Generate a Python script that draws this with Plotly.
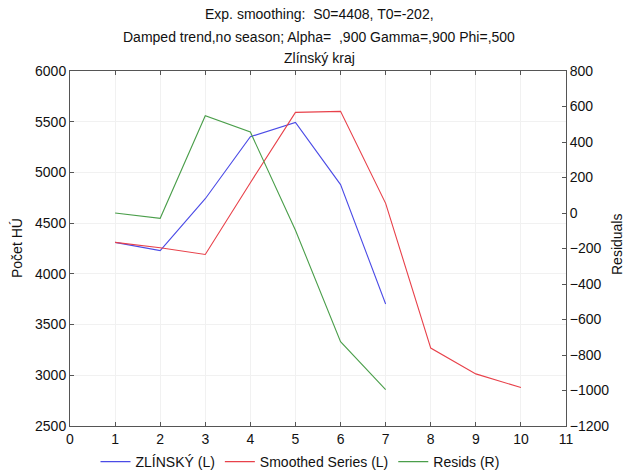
import plotly.graph_objects as go

# ---- data ----
x_data = [1, 2, 3, 4, 5, 6, 7]
zlinsky = [4310, 4230, 4741, 5352, 5493, 4880, 3703]
x_smooth = [1, 2, 3, 4, 5, 6, 7, 8, 9, 10]
smoothed = [4310, 4257, 4191, 4899, 5592, 5602, 4695, 3268, 3014, 2879]
resids = [0, -30, 548, 456, -97, -725, -995]

title_lines = ["Exp. smoothing:  S0=4408, T0=-202,",
               "Damped trend,no season; Alpha=  ,900 Gamma=,900 Phi=,500",
               "Zlínský kraj"]
series_names = ["ZLÍNSKÝ (L)", "Smoothed Series (L)", "Resids (R)"]
left_title = "Počet HÚ"
right_title = "Residuals"

W, H = 627, 473
L, R, T, B = 70, 61, 71, 47
plot_w = W - L - R
plot_h = H - T - B


def px_x(px):
    return (px - L) / plot_w


def px_y(py):
    return (H - B - py) / plot_h


FONT = "Liberation Sans, Arial, sans-serif"
AX = "#555555"

fig = go.Figure()
fig.add_trace(go.Scatter(x=x_data, y=zlinsky, mode="lines", name=series_names[0],
                         line=dict(color="#4b4be6", width=1.1)))
fig.add_trace(go.Scatter(x=x_smooth, y=smoothed, mode="lines", name=series_names[1],
                         line=dict(color="#e8414a", width=1.1)))
fig.add_trace(go.Scatter(x=x_data, y=resids, mode="lines", name=series_names[2],
                         line=dict(color="#4a9e4a", width=1.1), yaxis="y2"))

annotations = []
for txt, py in zip(title_lines, [14, 37, 58]):
    annotations.append(dict(text=txt, xref="paper", yref="paper", x=px_x(319), y=px_y(py),
                            xanchor="center", yanchor="middle", showarrow=False,
                            font=dict(family=FONT, size=14, color="#111")))
annotations.append(dict(text=left_title, xref="paper", yref="paper", x=px_x(17), y=px_y(248),
                        xanchor="center", yanchor="middle", textangle=-90, showarrow=False,
                        font=dict(family=FONT, size=14, color="#111")))
annotations.append(dict(text=right_title, xref="paper", yref="paper", x=px_x(617), y=px_y(245),
                        xanchor="center", yanchor="middle", textangle=-90, showarrow=False,
                        font=dict(family=FONT, size=14, color="#111")))

fig.update_layout(
    width=W, height=H,
    margin=dict(l=L, r=R, t=T, b=B, pad=0, autoexpand=False),
    paper_bgcolor="white", plot_bgcolor="white",
    font=dict(family=FONT, size=14, color="#111"),
    showlegend=True,
    legend=dict(orientation="h", x=px_x(300), xanchor="center", y=px_y(462), yanchor="middle",
                font=dict(family=FONT, size=14, color="#111"), itemwidth=30,
                bgcolor="rgba(0,0,0,0)", tracegroupgap=0),
    xaxis=dict(range=[0, 11], tick0=0, dtick=1, showgrid=True, gridcolor="#f1f1f1",
               zeroline=False, showline=True, linecolor=AX, linewidth=1, mirror="ticks",
               ticks="inside", ticklen=4, tickcolor=AX, fixedrange=True),
    yaxis=dict(range=[2500, 6000], tick0=2500, dtick=500, showgrid=True, gridcolor="#f1f1f1",
               zeroline=False, showline=True, linecolor=AX, linewidth=1,
               ticks="inside", ticklen=4, tickcolor=AX),
    yaxis2=dict(range=[-1200, 800], tick0=-1200, dtick=200, overlaying="y", side="right",
                showgrid=False, zeroline=False, showline=True, linecolor=AX, linewidth=1,
                ticks="inside", ticklen=4, tickcolor=AX),
    annotations=annotations,
)

fig.write_html("out.html")
